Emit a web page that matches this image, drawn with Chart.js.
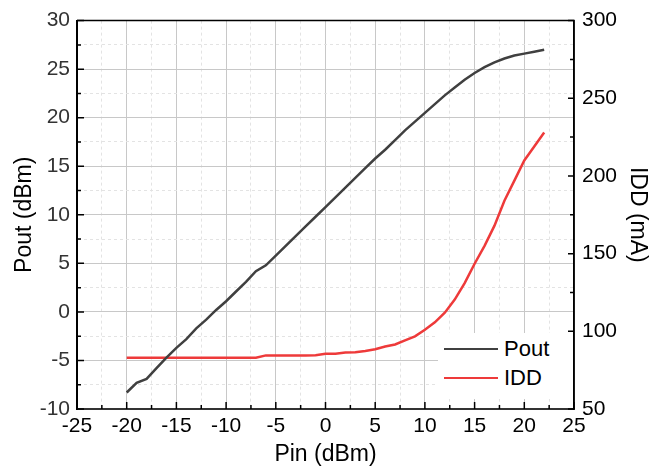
<!DOCTYPE html>
<html>
<head>
<meta charset="utf-8">
<title>Pout / IDD vs Pin</title>
<script src="https://cdn.jsdelivr.net/npm/chart.js@4.4.1/dist/chart.umd.min.js"></script>
<style>
    body { margin: 0; background: #fff; }
    #wrap { position: relative; width: 662px; height: 472px; }
    #legend {
        position: absolute; left: 438px; top: 333px; width: 135px; height: 66px;
        background: #fff; font-family: "Liberation Sans", Arial, sans-serif; font-size: 22px; color: #000;
    }
    #legend .item { position: absolute; left: 6px; height: 26px; display: flex; align-items: center; }
    #legend .swatch { display: inline-block; width: 54px; height: 2.5px; margin-right: 6px; }
</style>
</head>
<body>
<div id="wrap">
    <canvas id="chart" width="662" height="472"></canvas>
    <div id="legend"></div>
</div>
<script>
// Pin sweep (dBm)
const pin = [-20, -19, -18, -17, -16, -15, -14, -13, -12, -11, -10, -9, -8, -7, -6, -5, -4, -3, -2, -1,
    0, 1, 2, 3, 4, 5, 6, 7, 8, 9, 10, 11, 12, 13, 14, 15, 16, 17, 18, 19, 20, 21, 22];

// Output power (dBm), left axis
const pout = [-8.3, -7.3, -6.9, -5.8, -4.7, -3.7, -2.8, -1.7, -0.8, 0.2, 1.1, 2.1, 3.1, 4.2, 4.8, 5.8, 6.8, 7.8, 8.8, 9.8,
    10.8, 11.8, 12.8, 13.8, 14.8, 15.8, 16.7, 17.7, 18.7, 19.6, 20.5, 21.4, 22.3, 23.1, 23.9, 24.6, 25.2, 25.7, 26.1, 26.4, 26.6, 26.8, 27.0];

// Drain current (mA), right axis
const idd = [83, 83, 83, 83, 83, 83, 83, 83, 83, 83, 83, 83, 83, 83, 84.5, 84.5, 84.5, 84.5, 84.5, 84.6,
    85.5, 85.6, 86.4, 86.6, 87.4, 88.5, 90.2, 91.5, 94.2, 96.8, 101, 105.8, 112, 120.4, 131, 143.5, 155, 168, 184, 197, 210, 219, 228];

const seriesNames = ['Pout', 'IDD'];
const seriesColors = ['#404040', '#ee3a3a'];

const FONT = '"Liberation Sans", Arial, sans-serif';

function isMajor(ctx, step) {
    return ctx.tick && Math.abs(ctx.tick.value % step) < 1e-6;
}

// Draws inward tick marks and the top/right frame
const frameTicks = {
    id: 'frameTicks',
    afterDatasetsDraw(chart) {
        const { ctx, chartArea: a, scales } = chart;
        ctx.save();
        ctx.strokeStyle = '#000';
        ctx.lineWidth = 1.5;
        ctx.beginPath();
        scales.x.ticks.forEach(t => {
            const px = scales.x.getPixelForValue(t.value);
            const len = t.value % 5 === 0 ? 7 : 4;
            ctx.moveTo(px, a.bottom); ctx.lineTo(px, a.bottom - len);
        });
        scales.y.ticks.forEach(t => {
            const py = scales.y.getPixelForValue(t.value);
            const len = t.value % 5 === 0 ? 7 : 4;
            ctx.moveTo(a.left, py); ctx.lineTo(a.left + len, py);
        });
        scales.y1.ticks.forEach(t => {
            const py = scales.y1.getPixelForValue(t.value);
            const len = t.value % 50 === 0 ? 6 : 4;
            ctx.moveTo(a.right, py); ctx.lineTo(a.right - len, py);
        });
        ctx.stroke();
        ctx.beginPath();
        ctx.moveTo(a.left, a.top); ctx.lineTo(a.right, a.top); ctx.lineTo(a.right, a.bottom);
        ctx.stroke();
        ctx.restore();
    }
};

const chart = new Chart(document.getElementById('chart'), {
    type: 'line',
    data: {
        datasets: [
            {
                label: seriesNames[0],
                data: pin.map((x, i) => ({ x: x, y: pout[i] })),
                borderColor: seriesColors[0],
                borderWidth: 2.5,
                pointRadius: 0,
                tension: 0,
                yAxisID: 'y'
            },
            {
                label: seriesNames[1],
                data: pin.map((x, i) => ({ x: x, y: idd[i] })),
                borderColor: seriesColors[1],
                borderWidth: 2.5,
                pointRadius: 0,
                tension: 0,
                yAxisID: 'y1'
            }
        ]
    },
    options: {
        responsive: false,
        animation: false,
        layout: { padding: { top: 15, left: 0, right: 0, bottom: 0 } },
        plugins: { legend: { display: false }, tooltip: { enabled: false } },
        scales: {
            x: {
                type: 'linear',
                min: -25, max: 25,
                afterFit: s => { s.height = 63; },
                ticks: {
                    stepSize: 2.5, autoSkip: false, maxRotation: 0, padding: 5,
                    color: '#000', font: { family: FONT, size: 21 },
                    callback: v => (v % 5 === 0 ? v : '')
                },
                grid: {
                    drawTicks: false,
                    color: ctx => (isMajor(ctx, 5) ? '#c8c8c8' : '#e3e3e3')
                },
                border: { color: '#333', width: 2, dash: ctx => (isMajor(ctx, 5) ? [] : [3, 3]) },
                title: { display: true, text: 'Pin (dBm)', color: '#000', font: { family: FONT, size: 23 }, padding: { top: 0, bottom: 4 } }
            },
            y: {
                type: 'linear',
                position: 'left',
                min: -10, max: 30,
                afterFit: s => { s.width = 77; },
                ticks: {
                    stepSize: 2.5, autoSkip: false, padding: 7,
                    color: '#333', font: { family: FONT, size: 21 },
                    callback: v => (v % 5 === 0 ? v : '')
                },
                grid: {
                    drawTicks: false,
                    color: ctx => (isMajor(ctx, 5) ? '#c8c8c8' : '#e3e3e3')
                },
                border: { color: '#000', width: 2, dash: ctx => (isMajor(ctx, 5) ? [] : [3, 3]) },
                title: { display: true, text: 'Pout (dBm)', color: '#000', font: { family: FONT, size: 23 }, padding: { top: 11, bottom: 0 } }
            },
            y1: {
                type: 'linear',
                position: 'right',
                min: 50, max: 300,
                afterFit: s => { s.width = 88; },
                ticks: {
                    stepSize: 25, autoSkip: false, padding: 8,
                    color: '#000', font: { family: FONT, size: 21 },
                    callback: v => (v % 50 === 0 ? v : '')
                },
                grid: { drawOnChartArea: false, drawTicks: false },
                border: { color: '#000', width: 1.5 },
                title: { display: true, text: 'IDD (mA)', color: '#000', font: { family: FONT, size: 23 }, padding: { top: 11, bottom: 0 } }
            }
        }
    },
    plugins: [frameTicks]
});

// Build the in-plot legend from the datasets
const legend = document.getElementById('legend');
chart.data.datasets.forEach((ds, i) => {
    const item = document.createElement('div');
    item.className = 'item';
    item.style.top = (3 + i * 29) + 'px';
    item.innerHTML = `<span class="swatch" style="background:${ds.borderColor}"></span><span>${ds.label}</span>`;
    legend.appendChild(item);
});
</script>
</body>
</html>
